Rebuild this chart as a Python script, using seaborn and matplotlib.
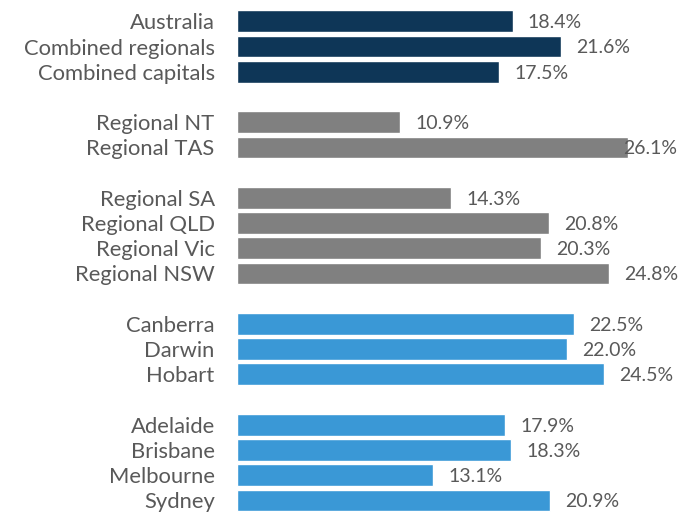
import pandas as pd
import matplotlib.pyplot as plt
import seaborn as sns

# Dados (linhas vazias separam os grupos)
categorias = ['Australia', 'Combined regionals', 'Combined capitals', ' ',
              'Regional NT', 'Regional TAS', '  ',
              'Regional SA', 'Regional QLD', 'Regional Vic', 'Regional NSW', '   ',
              'Canberra', 'Darwin', 'Hobart', '    ',
              'Adelaide', 'Brisbane', 'Melbourne', 'Sydney']
valores = [18.4, 21.6, 17.5, None,
           10.9, 26.1, None,
           14.3, 20.8, 20.3, 24.8, None,
           22.5, 22.0, 24.5, None,
           17.9, 18.3, 13.1, 20.9]
grupos = ['total', 'total', 'total', 'vazio',
          'regional', 'regional', 'vazio',
          'regional', 'regional', 'regional', 'regional', 'vazio',
          'capital', 'capital', 'capital', 'vazio',
          'capital', 'capital', 'capital', 'capital']

cores = {'total': '#0E3657', 'regional': '#808080', 'capital': '#3A98D6', 'vazio': 'white'}

df = pd.DataFrame({'Categoria': categorias, 'Valor': valores, 'Grupo': grupos})
df['Valor'] = df['Valor'].fillna(0)

sns.set_style('white')
plt.rcParams['font.family'] = ['Lato', 'DejaVu Sans']

fig = plt.figure(figsize=(6.79, 5.13), dpi=100)
ax = fig.add_axes([0.349, 0.0, 0.651, 0.983])

sns.barplot(data=df, y='Categoria', x='Valor', hue='Grupo', palette=cores,
            order=categorias, dodge=False, legend=False, width=0.86, ax=ax,
            saturation=1)

ax.set_xlim(0, 29.5)
ax.set_xlabel('')
ax.set_ylabel('')
ax.set_xticks([])
sns.despine(ax=ax, left=True, bottom=True)
ax.tick_params(axis='y', length=0, pad=16, labelsize=15.8, labelcolor='#595959')

for i, (cat, v, g) in enumerate(zip(categorias, valores, grupos)):
    if v is None:
        continue
    if v > 25.5:
        ax.annotate(f'{v:.1f}%', xy=(1.0, i), xycoords=('axes fraction', 'data'),
                    xytext=(-1.5, -1), textcoords='offset points',
                    ha='right', va='center', fontsize=14, color='#595959')
    else:
        ax.annotate(f'{v:.1f}%', xy=(v, i), xytext=(11, -1), textcoords='offset points',
                    ha='left', va='center', fontsize=14, color='#595959')

plt.savefig('out.png', dpi=100)
